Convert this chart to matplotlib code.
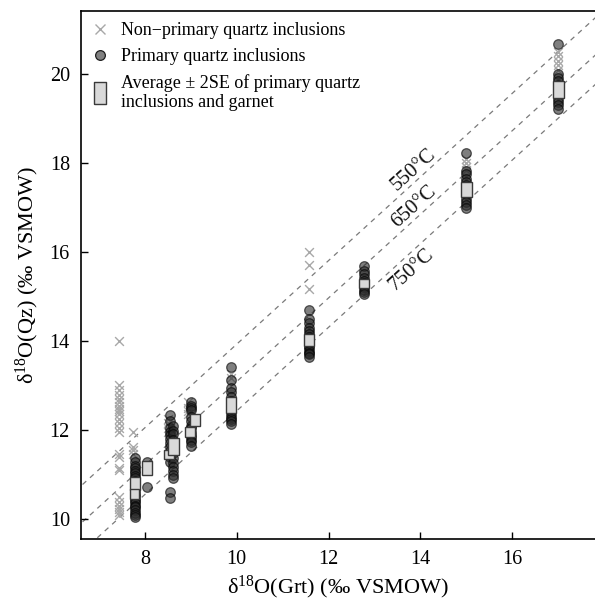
import matplotlib
matplotlib.use("Agg")
import matplotlib.pyplot as plt
from matplotlib.lines import Line2D
from matplotlib.patches import Rectangle
import numpy as np

plt.rcParams['font.family'] = ['Liberation Serif', 'DejaVu Serif']
plt.rcParams['mathtext.fontset'] = 'custom'
plt.rcParams['mathtext.rm'] = 'Liberation Serif'
plt.rcParams['mathtext.it'] = 'Liberation Serif:italic'

# ---- Data -------------------------------------------------------------
# Non-primary quartz inclusions (x = δ18O Grt, y = δ18O Qz)
nonprim_x = [7.44]*24 + [7.75]*4 + [8.50]*4 + [8.93]*4 + [9.87]*2 + [11.58]*3 + [15.0]*4 + [17.0]*5
nonprim_y = [14.0, 13.02, 12.9, 12.78, 12.7, 12.62, 12.55, 12.48, 12.42, 12.35, 12.25, 12.15,
             12.05, 11.95, 11.45, 11.4, 11.15, 11.1, 10.5, 10.38, 10.3, 10.22, 10.15, 10.08,
             11.95, 11.62, 11.55, 11.45,
             12.25, 12.15, 12.05, 11.95,
             12.62, 12.5, 12.42, 12.35,
             13.25, 13.18,
             16.0, 15.71, 15.18,
             18.1, 18.0, 17.92, 17.85,
             20.5, 20.4, 20.3, 20.2, 20.1]

# Primary quartz inclusions
prim_x = ([7.78]*24 + [8.04]*4 + [8.55]*13 + [8.62]*12 + [9.0]*14 + [9.87]*13 +
          [11.58]*15 + [12.77]*10 + [15.0]*12 + [17.0]*11)
prim_y = ([11.36, 11.27, 11.2, 11.14, 11.08, 11.03, 10.97, 10.92, 10.86, 10.8, 10.74, 10.69,
           10.62, 10.57, 10.51, 10.46, 10.41, 10.35, 10.3, 10.26, 10.2, 10.14, 10.1, 10.04] +
          [11.27, 11.2, 11.12, 10.72] +
          [12.33, 12.2, 12.04, 11.95, 11.88, 11.8, 11.7, 11.62, 11.52, 11.4, 11.28, 10.6, 10.47] +
          [12.1, 11.98, 11.9, 11.78, 11.66, 11.48, 11.36, 11.25, 11.16, 11.08, 11.0, 10.93] +
          [12.62, 12.55, 12.5, 12.45, 12.3, 12.2, 12.1, 12.05, 11.95, 11.88, 11.84, 11.78, 11.72, 11.65] +
          [13.42, 13.12, 12.95, 12.85, 12.75, 12.65, 12.5, 12.42, 12.35, 12.3, 12.25, 12.2, 12.14] +
          [14.7, 14.5, 14.4, 14.3, 14.22, 14.15, 14.08, 14.0, 13.95, 13.9, 13.84, 13.78, 13.74, 13.7, 13.65] +
          [15.68, 15.58, 15.5, 15.42, 15.35, 15.3, 15.22, 15.15, 15.1, 15.05] +
          [18.23, 17.82, 17.75, 17.65, 17.58, 17.5, 17.4, 17.3, 17.2, 17.12, 17.05, 16.98] +
          [20.67, 20.0, 19.92, 19.85, 19.75, 19.65, 19.55, 19.45, 19.38, 19.3, 19.22])

# Averages +/- 2SE (garnet mean, garnet 2SE, quartz mean, quartz 2SE)
avg_grt = [7.78, 7.78, 8.04, 8.53, 8.62, 8.98, 9.09, 9.87, 11.58, 12.77, 15.0, 17.0]
se_grt = [0.11, 0.10, 0.11, 0.11, 0.12, 0.11, 0.11, 0.11, 0.11, 0.11, 0.12, 0.12]
avg_qz = [10.80, 10.56, 11.14, 11.44, 11.62, 11.95, 12.22, 12.57, 14.02, 15.29, 17.41, 19.66]
se_qz = [0.15, 0.12, 0.16, 0.10, 0.19, 0.11, 0.14, 0.18, 0.14, 0.10, 0.17, 0.19]

# Isotherms: y = slope*(x - 12) + value at x=12
iso_labels = ['550°C', '650°C', '750°C']
iso_at12 = [15.81, 14.97, 14.31]
iso_slope = 0.94
iso_label_x = [13.85, 13.85, 13.81]
iso_label_y = [17.84, 17.02, 15.60]

xticks = [8, 10, 12, 14, 16]
yticks = [10, 12, 14, 16, 18, 20]

# ---- Figure -----------------------------------------------------------
fig = plt.figure(figsize=(5.95, 6.05), dpi=100)
ax = fig.add_axes([81/595, 66/605, 1 - 81/595, 528/605])
ax.set_xlim(6.61, 17.80)
ax.set_ylim(9.55, 21.42)

xx = np.array([6.0, 18.5])
for v in iso_at12:
    ax.plot(xx, iso_slope*(xx - 12) + v, ls=(0, (4, 4)), color='#7a7a7a', lw=0.9, zorder=1)
for lab, lx, ly in zip(iso_labels, iso_label_x, iso_label_y):
    ax.text(lx, ly, lab, rotation=42, rotation_mode='anchor', ha='center', va='center',
            fontsize=15, color='#111111')

ax.scatter(nonprim_x, nonprim_y, marker='x', s=40, color='#a8a8a8', linewidths=1.0, zorder=2)
ax.scatter(prim_x, prim_y, marker='o', s=48, facecolor='#2a2a2a', edgecolor='#000000',
           linewidths=0.9, alpha=0.6, zorder=3)

for gx, gs, qy, qs in zip(avg_grt, se_grt, avg_qz, se_qz):
    ax.add_patch(Rectangle((gx - gs, qy - qs), 2*gs, 2*qs, facecolor='#d9d9d9',
                           edgecolor='#3a3a3a', lw=1.0, zorder=4))

ax.set_xticks(xticks)
ax.set_yticks(yticks)
ax.tick_params(direction='in', length=5, width=1, labelsize=14.5, pad=8)
ax.spines['right'].set_visible(False)
for s in ['left', 'bottom', 'top']:
    ax.spines[s].set_linewidth(1.2)

ax.set_xlabel('δ$^{18}$O(Grt) (‰ VSMOW)', fontsize=16, labelpad=3)
ax.set_ylabel('δ$^{18}$O(Qz) (‰ VSMOW)', fontsize=16, labelpad=6)

rect_marker = [(-0.28, -0.5), (0.28, -0.5), (0.28, 0.5), (-0.28, 0.5), (-0.28, -0.5)]
handles = [
    Line2D([], [], ls='none', marker='x', ms=6.5, mew=1.0, color='#a8a8a8'),
    Line2D([], [], ls='none', marker='o', ms=7, mfc='#808080', mec='#1e1e1e', mew=0.9),
    Line2D([], [], ls='none', marker=rect_marker, ms=16, mfc='#d9d9d9', mec='#3a3a3a', mew=1.0),
]
labels = ['Non−primary quartz inclusions', 'Primary quartz inclusions',
          'Average ± 2SE of primary quartz\ninclusions and garnet']
ax.legend(handles, labels, loc='upper left', frameon=False, fontsize=13,
          handlelength=0.9, handletextpad=0.7, borderaxespad=0.2, labelspacing=0.5,
          bbox_to_anchor=(0.0, 1.0))

fig.savefig('out.png', dpi=100)
